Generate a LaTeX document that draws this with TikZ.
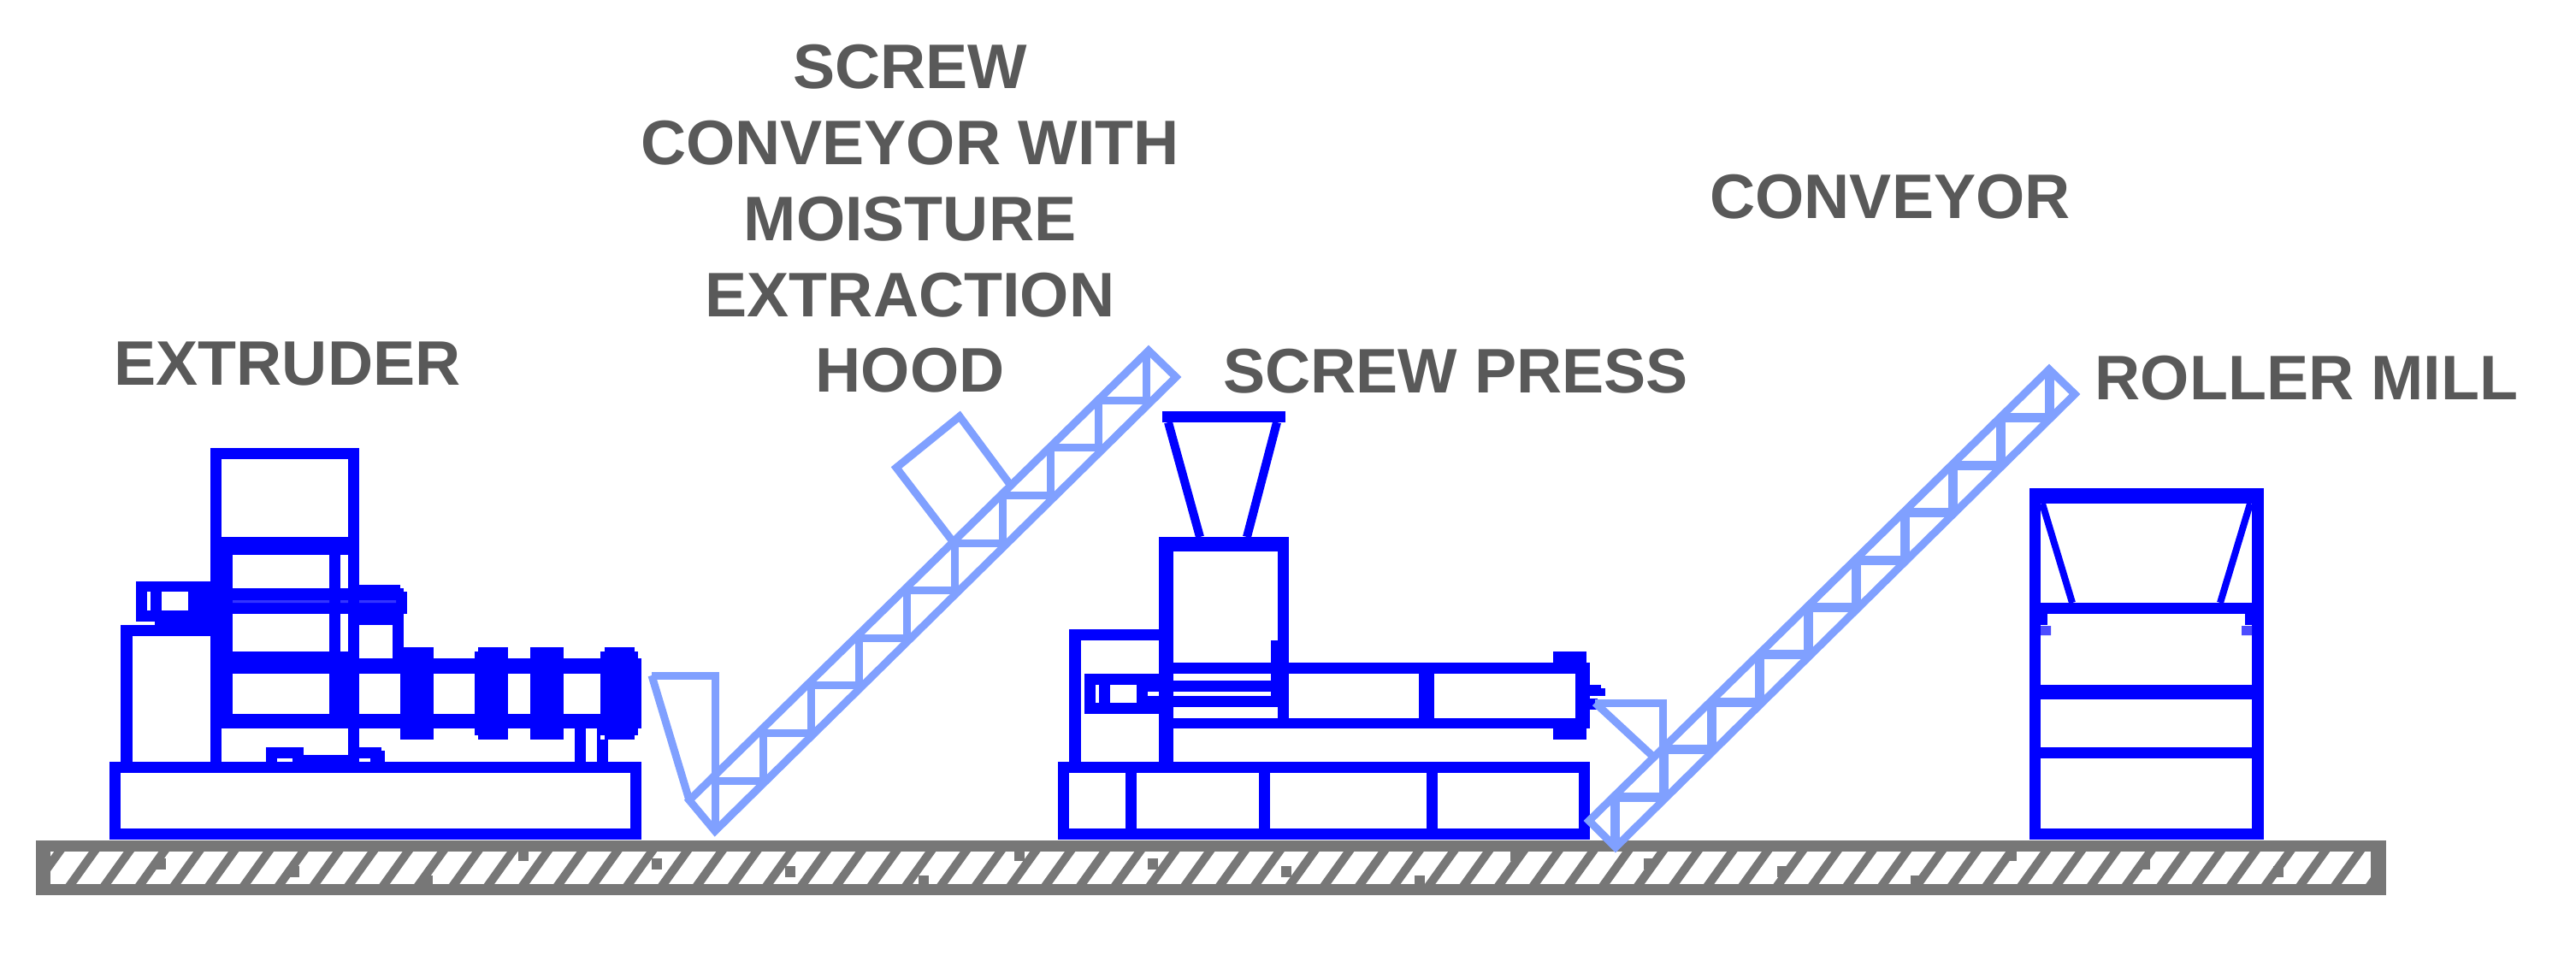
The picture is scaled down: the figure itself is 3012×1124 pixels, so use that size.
\documentclass[tikz,border=0pt]{standalone}
\usepackage{fontspec}
\setmainfont{Liberation Sans}
\definecolor{machblue}{HTML}{0000FF}
\definecolor{convblue}{HTML}{80A0FF}
\definecolor{groundgray}{HTML}{777777}
\definecolor{labelgray}{HTML}{595959}
\newcommand{\bl}[4]{\fill[mach] (#1,#2) rectangle (#3,#4);}
\newcommand{\wh}[4]{\fill[hole] (#1,#2) rectangle (#3,#4);}
\tikzset{
  mach/.style={fill=machblue},
  hole/.style={fill=white},
  machline/.style={draw=machblue,line width=2.5pt,line cap=butt},
  rollline/.style={draw=machblue,line width=2pt,line cap=butt},
  conv/.style={draw=convblue,line width=2.25pt,line join=miter},
  convthin/.style={draw=convblue,line width=2.25pt},
  convthick/.style={draw=convblue,line width=2.75pt},
  hatchline/.style={draw=groundgray,line width=2.5pt},
  lbl/.style={text=labelgray,font=\fontsize{18.4}{22.2}\selectfont\bfseries,align=center,inner sep=0pt},
}
\begin{document}
\begin{tikzpicture}[x=0.25pt,y=-0.25pt]
\useasboundingbox (0,0) rectangle (3012,1124);
% ground
\fill[groundgray] (42,983) rectangle (2790,1047);
\fill[white] (59,996) rectangle (2772,1034);
\begin{scope}
\clip (59,996) rectangle (2772,1034);
\foreach \i in {-1,...,67} {
  \draw[hatchline] (83+40.75*\i-3,1038) -- (83+40.75*\i+30,992);
}
\foreach \i in {0,...,4} {
  \fill[groundgray] (182+580*\i,1004) rectangle (194+580*\i,1017);
  \fill[groundgray] (338+580*\i,1013) rectangle (350+580*\i,1026);
  \fill[groundgray] (494+580*\i,1024) rectangle (506+580*\i,1034);
  \fill[groundgray] (606+580*\i,996) rectangle (618+580*\i,1007);
}
\end{scope}
% extruder
\bl{128}{891}{750}{982}\wh{141}{904}{737}{969}
\bl{246}{524}{420}{891}
\wh{259}{537}{407}{628}
\wh{272}{649}{385}{688}\wh{398}{649}{407}{688}
\wh{272}{718}{385}{762}\wh{398}{718}{407}{762}
\wh{272}{788}{385}{835}
\wh{259}{852}{407}{891}
% motor
\bl{141}{731}{246}{891}\wh{155}{744}{246}{891}
\bl{181}{727}{246}{731}
% belt box
\bl{159}{680}{246}{727}
\wh{172}{692}{176}{714}\wh{189}{692}{220}{714}
% shaft
\bl{246}{688}{468}{718}
\bl{420}{684}{468}{692}\bl{420}{688}{472}{718}\bl{468}{692}{476}{718}
\fill[color=blue!80!white] (272,702) rectangle (385,705) (398,702) rectangle (407,705) (420,702) rectangle (463,705);
\bl{420}{718}{472}{770}\wh{420}{731}{459}{770}
% barrel
\bl{246}{770}{750}{852}
\bl{420}{770}{472}{788}
\bl{272}{762}{407}{770}
\wh{420}{788}{468}{835}\wh{507}{788}{555}{835}\wh{594}{788}{620}{835}\wh{659}{788}{702}{835}
\wh{272}{788}{385}{835}
% collars
\bl{468}{757}{507}{865}
\bl{559}{757}{594}{865}\bl{555}{762}{559}{860}
\bl{620}{757}{659}{865}
\bl{707}{757}{742}{865}\bl{702}{762}{746}{860}
\bl{746}{775}{750}{848}
% legs
\bl{672}{852}{685}{891}\bl{698}{865}{711}{891}\bl{698}{852}{702}{865}
% bumps
\bl{311}{874}{355}{891}\wh{324}{887}{342}{891}
\bl{355}{883}{407}{891}
\bl{420}{874}{446}{891}\bl{446}{878}{450}{891}\wh{420}{887}{433}{891}
% screw press
\bl{1237}{891}{1859}{982}
\wh{1250}{904}{1316}{969}\wh{1329}{904}{1472}{969}\wh{1485}{904}{1668}{969}\wh{1681}{904}{1846}{969}
\bl{1250}{736}{1372}{891}\wh{1264}{749}{1355}{891}
\bl{1355}{628}{1507}{852}
\wh{1372}{645}{1494}{775}
\bl{1486}{749}{1494}{775}
\bl{1507}{775}{1859}{852}
\bl{1816}{762}{1855}{865}
\wh{1507}{788}{1659}{840}\wh{1677}{788}{1842}{840}
\wh{1372}{788}{1486}{796}\wh{1372}{809}{1486}{814}\wh{1372}{827}{1494}{840}
\wh{1372}{852}{1859}{891}
\bl{1816}{852}{1855}{865}
\bl{1355}{852}{1372}{891}
\bl{1237}{891}{1855}{904}
\bl{1268}{788}{1355}{835}
\wh{1281}{801}{1285}{822}\wh{1298}{801}{1329}{822}\wh{1342}{809}{1355}{814}
\bl{1859}{801}{1872}{814}\bl{1872}{805}{1877}{814}\bl{1859}{817}{1868}{830}
\bl{1359}{481}{1503}{494}
\draw[machline] (1366,494) -- (1403,628);
\draw[machline] (1493,494) -- (1458,628);
% roller mill
\bl{2373}{571}{2647}{982}
\wh{2386}{589}{2633}{705}\wh{2386}{718}{2633}{801}\wh{2386}{818}{2633}{874}\wh{2386}{887}{2633}{969}
\draw[rollline] (2388,589) -- (2423,705);
\draw[rollline] (2631,589) -- (2596,705);
\bl{2386}{718}{2394}{731}\bl{2625}{718}{2633}{731}
\fill[color=machblue!70!white] (2386,732) rectangle (2398,743) (2621,732) rectangle (2633,743);
% conveyor 1
\draw[conv] (762,790) -- (836,790) -- (836,913);
\draw[conv] (762,790) -- (806,936);
\draw[conv] (1113,632) -- (1048,547) -- (1122,487) -- (1182,568);
\draw[conv] (806,936) -- (1343,410) -- (1375,441) -- (836,972) -- cycle;
\foreach \k in {0,...,9} {
  \draw[convthin] (836+56*\k,{936-0.98*(30+56*\k)}) -- (836+56*\k,{972-0.984*56*\k});
}
\foreach \k in {0,...,8} {
  \draw[convthin] (836+56*\k,913-55.6*\k) -- (892+56*\k,913-55.6*\k);
}
% conveyor 2
\draw[conv] (1865,822) -- (1944,822) -- (1944,880);
\draw[conv] (1865,822) -- (1932,884);
\draw[conv] (1858,960) -- (2396,432) -- (2426,461) -- (1889,991) -- cycle;
\foreach \k in {0,...,9} {
  \draw[convthick] (1888.6+56.4*\k,{960-0.981*(30.6+56.4*\k)}) -- (1888.6+56.4*\k,{991-0.987*56.4*\k});
}
\foreach \k in {0,...,8} {
  \draw[convthick] (1888.6+56.4*\k,932-55.4*\k) -- (1945+56.4*\k,932-55.4*\k);
}
% labels
\node[lbl] (extruder) at (336,426) {EXTRUDER};
\node[lbl] (hood) at (1064,256) {SCREW\\CONVEYOR WITH\\MOISTURE\\EXTRACTION\\HOOD};
\node[lbl] (conveyor) at (2210,230) {CONVEYOR};
\node[lbl] (press) at (1702,434) {SCREW PRESS};
\node[lbl] (mill) at (2697,442) {ROLLER MILL};
\end{tikzpicture}
\end{document}
